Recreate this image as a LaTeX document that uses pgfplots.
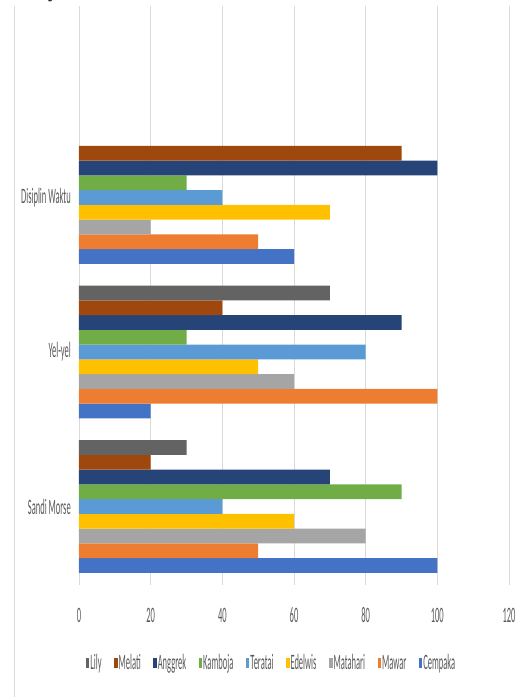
\documentclass[border=0pt]{standalone}
\usepackage{pgfplots}
\pgfplotsset{compat=1.18}
\usepackage{fontspec}
\newfontfamily\cf[FakeStretch=0.386]{Carlito}
\newfontfamily\yf{Liberation Serif}
\definecolor{cCempaka}{HTML}{4472C4}
\definecolor{cMawar}{HTML}{ED7D31}
\definecolor{cMatahari}{HTML}{A5A5A5}
\definecolor{cEdelwis}{HTML}{FFC000}
\definecolor{cTeratai}{HTML}{5B9BD5}
\definecolor{cKamboja}{HTML}{70AD47}
\definecolor{cAnggrek}{HTML}{264478}
\definecolor{cMelati}{HTML}{9E480E}
\definecolor{cLily}{HTML}{636363}
\definecolor{gridc}{HTML}{D9D9D9}
\definecolor{txt}{HTML}{595959}
\begin{document}
\begin{tikzpicture}
\useasboundingbox (0,0) rectangle (518pt,697pt);
\draw[gridc, line width=0.8pt] (14pt,0) -- (14pt,691pt);
\node[anchor=base, inner sep=0pt] at (53pt,699.5pt) {\yf\fontsize{20}{22}\selectfont y};
\begin{axis}[
  at={(79pt,112pt)}, anchor=south west,
  scale only axis, width=430pt, height=579pt,
  xbar=0pt, bar width=0.0955,
  xmin=0, xmax=120, ymin=-0.508, ymax=3.239,
  xtick={0,20,...,120}, ytick={0,1,2},
  yticklabels={Sandi Morse,Yel-yel,Disiplin Waktu},
  axis line style={draw=none},
  major tick length=0pt,
  xmajorgrids, ymajorgrids=false,
  grid style={gridc, line width=0.8pt},
  /pgf/number format/assume math mode=true,
  tick label style={font=\cf\fontsize{22}{24}\selectfont, text=txt, inner sep=0pt},
  xticklabel style={anchor=center, yshift=-30pt},
  yticklabel style={anchor=east, xshift=-8pt},
  legend style={at={(0.4465,-0.1347)}, anchor=center, draw=none, fill=none,
    legend columns=-1, font=\cf\fontsize{22}{24}\selectfont, text=txt,
    /tikz/every even column/.append style={column sep=11.5pt},
    nodes={inner sep=1pt}},
  legend image code/.code={\fill[#1] (0pt,-5pt) rectangle (3.5pt,5pt);},
  reverse legend,
  every axis plot/.append style={draw=none},
]
\addplot[fill=cCempaka] coordinates {(100,0) (20,1) (60,2)};
\addplot[fill=cMawar] coordinates {(50,0) (100,1) (50,2)};
\addplot[fill=cMatahari] coordinates {(80,0) (60,1) (20,2)};
\addplot[fill=cEdelwis] coordinates {(60,0) (50,1) (70,2)};
\addplot[fill=cTeratai] coordinates {(40,0) (80,1) (40,2)};
\addplot[fill=cKamboja] coordinates {(90,0) (30,1) (30,2)};
\addplot[fill=cAnggrek] coordinates {(70,0) (90,1) (100,2)};
\addplot[fill=cMelati] coordinates {(20,0) (40,1) (90,2)};
\addplot[fill=cLily] coordinates {(30,0) (70,1)};
\legend{Cempaka,Mawar,Matahari,Edelwis,Teratai,Kamboja,Anggrek,Melati,Lily}
\end{axis}
\end{tikzpicture}
\end{document}
